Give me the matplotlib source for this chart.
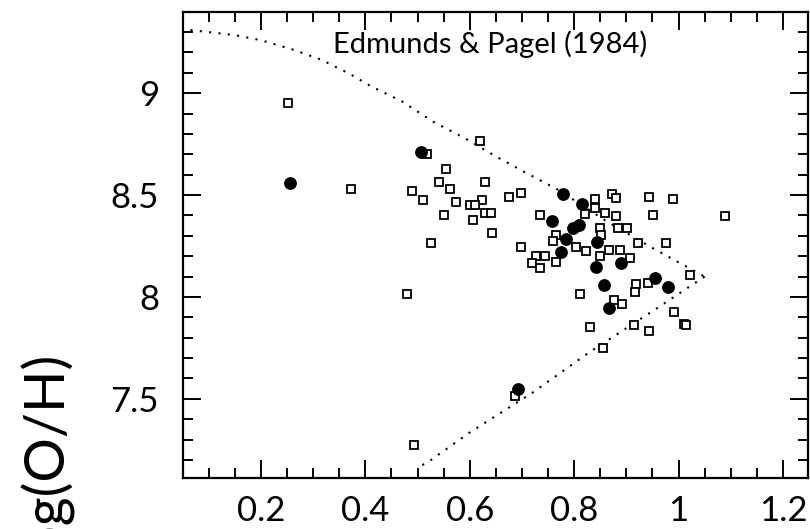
import numpy as np
import matplotlib.pyplot as plt

plt.rcParams['font.family'] = ['Lato', 'DejaVu Sans']

# open squares: x, 12+log(O/H)
sq_x = [0.252, 0.373, 0.490, 0.510, 0.519, 0.554, 0.542, 0.562, 0.574, 0.550,
        0.630, 0.619, 0.623, 0.600, 0.610, 0.630, 0.640, 0.606, 0.643, 0.526,
        0.480, 0.494, 0.675, 0.698, 0.734, 0.821, 0.840, 0.872, 0.881, 0.944,
        0.990, 0.840, 0.860, 0.881, 0.952, 1.089, 0.849, 0.851, 0.885, 0.901,
        0.766, 0.760, 0.923, 0.976, 0.698, 0.726, 0.744, 0.720, 0.735, 0.766,
        0.804, 0.823, 0.866, 0.888, 0.907, 0.849, 0.811, 0.919, 0.917, 0.942,
        1.022, 0.876, 0.892, 0.831, 0.915, 0.944, 0.992, 1.011, 1.014, 0.855,
        0.687]
sq_y = [8.954, 8.530, 8.520, 8.475, 8.700, 8.626, 8.565, 8.530, 8.464, 8.404,
        8.562, 8.766, 8.477, 8.451, 8.451, 8.413, 8.413, 8.377, 8.316, 8.263,
        8.016, 7.275, 8.491, 8.509, 8.404, 8.409, 8.482, 8.506, 8.484, 8.492,
        8.480, 8.435, 8.414, 8.397, 8.402, 8.397, 8.337, 8.304, 8.338, 8.338,
        8.305, 8.276, 8.265, 8.265, 8.244, 8.202, 8.202, 8.165, 8.141, 8.173,
        8.245, 8.225, 8.230, 8.230, 8.193, 8.202, 8.013, 8.062, 8.023, 8.067,
        8.108, 7.985, 7.964, 7.854, 7.863, 7.833, 7.925, 7.866, 7.860, 7.748,
        7.512]

# filled circles
ci_x = [0.255, 0.507, 0.779, 0.815, 0.757, 0.797, 0.810, 0.785, 0.844, 0.774,
        0.842, 0.890, 0.858, 0.954, 0.980, 0.866, 0.693]
ci_y = [8.557, 8.710, 8.503, 8.454, 8.371, 8.337, 8.353, 8.285, 8.271, 8.222,
        8.149, 8.165, 8.060, 8.094, 8.050, 7.944, 7.550]

# model envelope
up_x = [0.065, 0.15, 0.20, 0.26, 0.315, 0.37, 0.41, 0.47, 0.53, 0.59, 0.65,
        0.70, 0.77, 0.86, 0.94, 1.00, 1.05]
up_y = [9.31, 9.285, 9.26, 9.215, 9.165, 9.095, 9.035, 8.96, 8.86, 8.78, 8.69,
        8.62, 8.525, 8.375, 8.255, 8.17, 8.10]
lo_x = [1.05, 0.95, 0.83, 0.72, 0.60, 0.52, 0.498]
lo_y = [8.10, 7.93, 7.73, 7.53, 7.335, 7.19, 7.16]

fig = plt.figure(figsize=(8.1, 5.29), dpi=100)
ax = fig.add_axes([0.2255, 0.0958, 0.772, 0.8821])

ax.plot(up_x, up_y, color='black', lw=1.5, ls=(0, (1, 3.5)))
ax.plot(lo_x, lo_y, color='black', lw=1.5, ls=(0, (1, 3.5)))
ax.plot(sq_x, sq_y, 's', ms=5.6, mfc='white', mec='black', mew=1.3, ls='none')
ax.plot(ci_x, ci_y, 'o', ms=8.2, mfc='black', mec='black', ls='none')

ax.set_xlim(0.05, 1.248)
ax.set_ylim(7.11, 9.40)
ax.set_xticks([0.2, 0.4, 0.6, 0.8, 1.0, 1.2])
ax.set_xticklabels(['0.2', '0.4', '0.6', '0.8', '1', '1.2'])
ax.set_yticks([7.5, 8, 8.5, 9])
ax.set_yticklabels(['7.5', '8', '8.5', '9'])
ax.set_xticks(np.arange(0.1, 1.25, 0.05), minor=True)
ax.set_yticks(np.arange(7.2, 9.35, 0.1), minor=True)

ax.tick_params(which='both', direction='in', top=True, right=True, width=1.4)
ax.tick_params(which='major', length=13, labelsize=25)
ax.tick_params(which='minor', length=7)
ax.tick_params(axis='y', which='major', pad=17)
ax.tick_params(axis='x', which='major', pad=12)
for s in ax.spines.values():
    s.set_linewidth(1.6)

ax.text(0.24, 0.9115, 'Edmunds & Pagel (1984)', transform=ax.transAxes,
        fontsize=21, va='baseline', ha='left')

fig.text(66 / 810, 1 - 355 / 529, '12 + log(O/H)', rotation=90,
         rotation_mode='anchor', ha='right', va='baseline', fontsize=40)

fig.savefig('out.png', dpi=100)
